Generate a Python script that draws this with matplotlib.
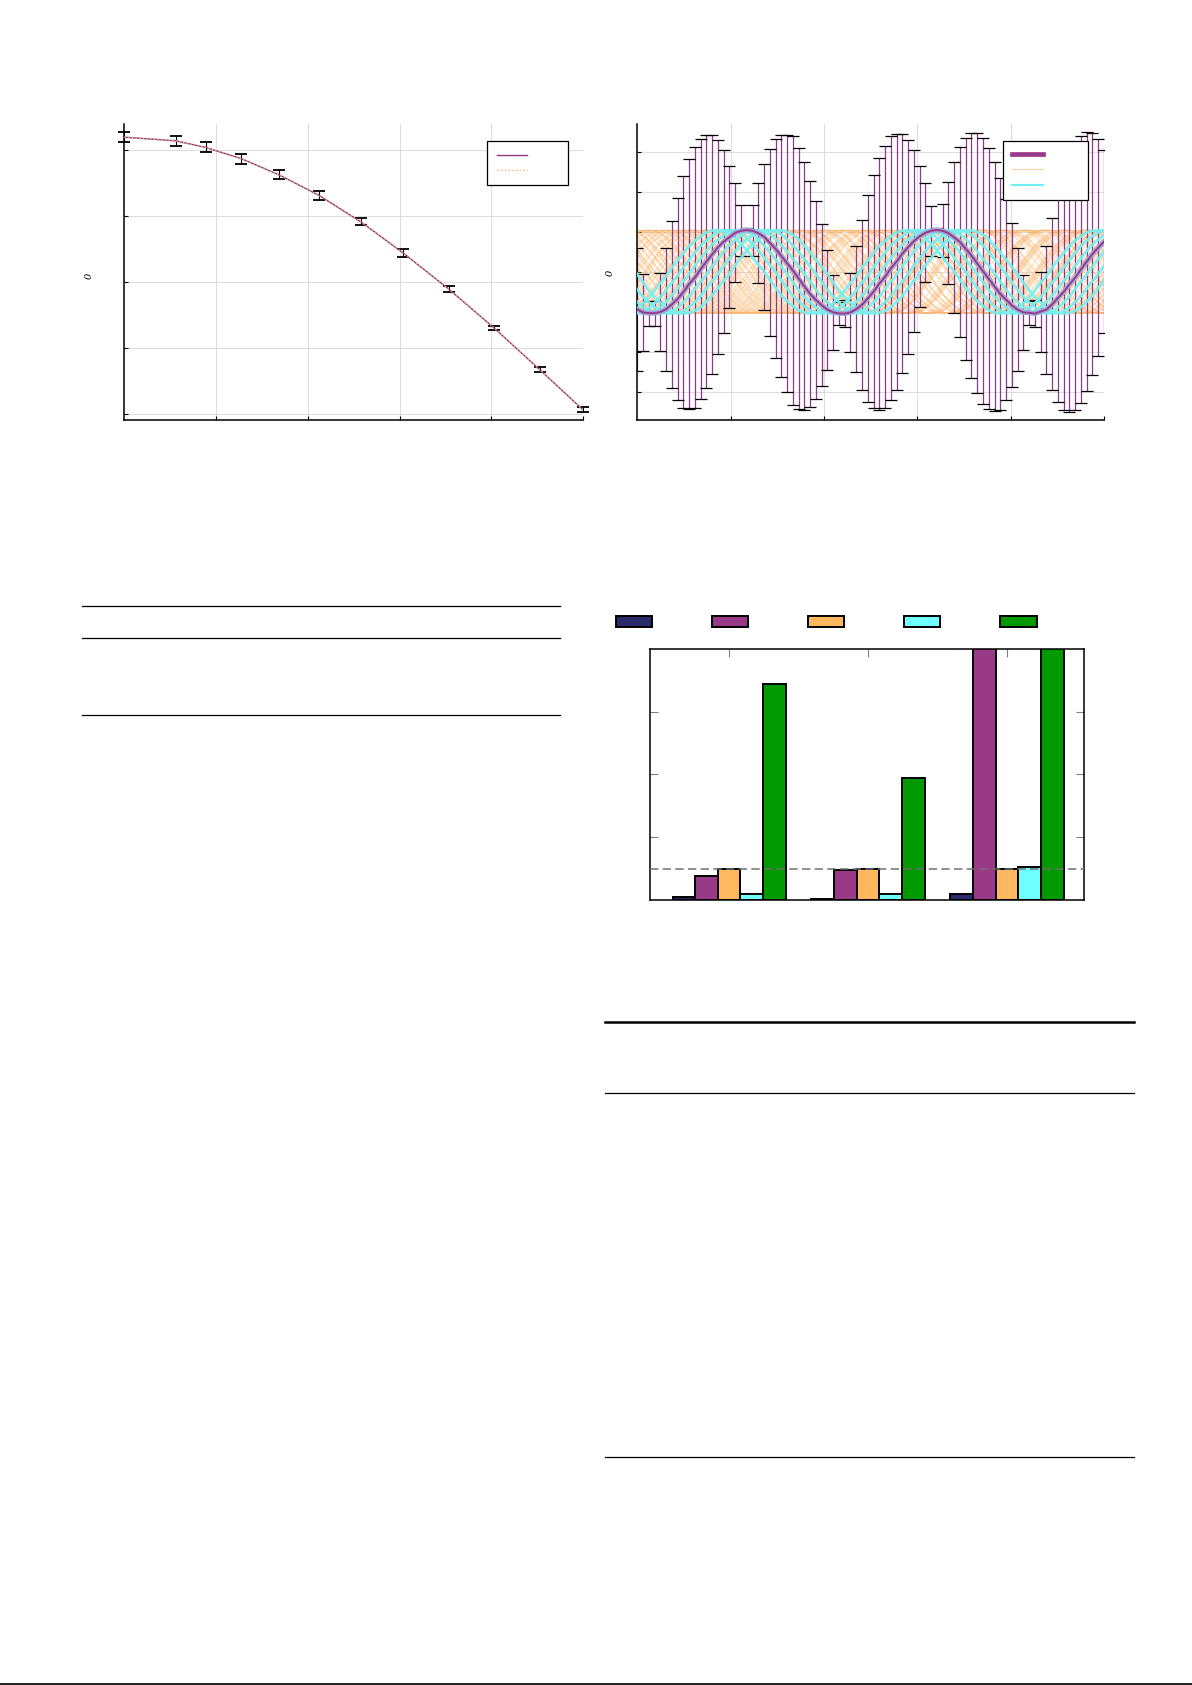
import numpy as np
import matplotlib
matplotlib.use('Agg')
import matplotlib.pyplot as plt
from matplotlib.lines import Line2D

#######################################################
# data
# top left: decaying curve with error bars
curve_x = [0.0, 0.112, 0.177, 0.255, 0.337, 0.424, 0.515, 0.608, 0.707, 0.806, 0.906, 1.0]
curve_y = [0.839, 0.828, 0.808, 0.774, 0.725, 0.663, 0.583, 0.488, 0.379, 0.261, 0.134, 0.013]
curve_err = [0.015, 0.015, 0.015, 0.015, 0.014, 0.013, 0.011, 0.011, 0.008, 0.007, 0.0075, 0.0075]

# top right: oscillation, 82 samples on 0..5
wave_y = [-0.925, -1.0, -1.02, -1.02, -0.99, -0.92, -0.80, -0.66, -0.49, -0.29,
          -0.13, 0.08, 0.27, 0.45, 0.63, 0.77, 0.88, 0.99, 1.04, 1.06,
          1.04, 0.98, 0.89, 0.74, 0.59, 0.41, 0.23, 0.05, -0.15, -0.35,
          -0.54, -0.69, -0.82, -0.93, -1.0, -1.025, -1.03, -1.0, -0.92, -0.81,
          -0.65, -0.48, -0.28, -0.11, 0.10, 0.27, 0.47, 0.63, 0.78, 0.90,
          0.99, 1.04, 1.06, 1.04, 0.98, 0.875, 0.76, 0.59, 0.42, 0.225,
          0.03, -0.16, -0.35, -0.54, -0.68, -0.825, -0.93, -1.0, -1.01, -1.03,
          -0.98, -0.93, -0.80, -0.64, -0.49, -0.30, -0.13, 0.075, 0.27, 0.46,
          0.62, 0.77]
wave_err = [1.53, 0.96, 0.31, 0.31, 0.97, 1.54, 2.08, 2.53, 2.89, 3.13,
            3.27, 3.25, 3.17, 2.98, 2.68, 2.29, 1.78, 1.24, 0.64, 0.05,
            0.64, 1.25, 1.83, 2.34, 2.74, 3.03, 3.21, 3.37, 3.26, 3.10,
            2.83, 2.48, 2.03, 1.50, 0.93, 0.29, 0.33, 0.98, 1.58, 2.13,
            2.58, 2.92, 3.15, 3.28, 3.30, 3.20, 2.99, 2.68, 2.28, 1.77,
            1.24, 0.63, 0.05, 0.66, 1.27, 1.88, 2.37, 2.78, 3.06, 3.25,
            3.32, 3.26, 3.11, 2.90, 2.51, 2.05, 1.53, 0.93, 0.30, 0.34,
            1.00, 1.60, 2.15, 2.60, 2.95, 3.20, 3.32, 3.33, 3.23, 3.02,
            2.72, 2.29]
wave_x = np.linspace(0, 5, len(wave_y))  # uniform sample grid

# phase offsets of the cyan and orange sample paths (x units)
cyan_shift = [-0.32, -0.2, -0.09, 0.1, 0.22, 0.34]
orange_shift = [0.00, 0.05, 0.09, 0.14, 0.18, 0.23, 0.27, 0.31, 0.36, 0.41,
                0.45, 0.49, 0.54, 0.58, 0.63, 0.68, 0.72, 0.76, 0.81, 0.85,
                0.90, 0.94, 0.99, 1.03, 1.07, 1.12, 1.16, 1.21, 1.25, 1.30,
                1.34, 1.38, 1.43, 1.47, 1.52, 1.56, 1.61, 1.65, 1.70, 1.74,
                1.78, 1.83, 1.87, 1.92, 1.96, 2.00]
orange_stretch = [1.0, 0.95, 1.05, 0.97, 1.03]
orange_stretch_b = [0.92, 1.08, 0.99, 1.06, 0.94]

# bar chart, three groups, five series (dashed reference at 1)
groups = [0, 1, 2]
bar_navy = [0.085, 0.04, 0.2]
bar_purple = [0.78, 0.96, 9.5]
bar_orange = [1.0, 1.0, 1.0]
bar_cyan = [0.19, 0.19, 1.04]
bar_green = [6.9, 3.9, 10.0]

PURPLE = '#983A88'
NAVY = '#2B2B6B'
ORANGE = '#FFB85F'
CYAN = '#6FFFFF'
GREEN = '#009900'

#######################################################
W, H = 1192, 1685
fig = plt.figure(figsize=(W / 100, H / 100), dpi=100)


def box(x0, y0, x1, y1):
    return [x0 / W, 1 - y1 / H, (x1 - x0) / W, (y1 - y0) / H]


def hline(x0, x1, y, lw):
    fig.add_artist(Line2D([x0 / W, x1 / W], [1 - y / H, 1 - y / H],
                          transform=fig.transFigure, color='black', lw=lw))


def style_line_axes(ax):
    for s in ['top', 'right']:
        ax.spines[s].set_visible(False)
    for s in ['left', 'bottom']:
        ax.spines[s].set_linewidth(1.1)
    ax.grid(True, color='#DEDEDE', lw=0.8)
    ax.set_axisbelow(True)
    ax.tick_params(direction='in', length=3, width=0.8,
                   labelbottom=False, labelleft=False)


########################################################################
# top left
ax1 = fig.add_axes(box(124.4, 124, 583, 420))
ax1.set_xlim(0, 1)
ax1.set_ylim(-0.018, 0.879)
ax1.set_xticks([0.2, 0.4, 0.6, 0.8, 1.0])
ax1.set_yticks([0, 0.2, 0.4, 0.6, 0.8])
style_line_axes(ax1)

eb = ax1.errorbar(curve_x, curve_y, yerr=curve_err, fmt='none', ecolor='black',
                  elinewidth=0.8, capsize=4, capthick=1.3, zorder=3)
for a in list(eb.lines[1]) + list(eb.lines[2]):
    a.set_clip_on(False)
ax1.plot(curve_x, curve_y, color='#8B3A80', lw=1.0, zorder=4)
ax1.plot(curve_x, curve_y, color='#F5B06B', lw=1.0, ls=':', zorder=5)

h1 = [Line2D([], [], color='#8B3A80', lw=1.0),
      Line2D([], [], color='#F5B06B', lw=1.0, ls=':')]
ax1.legend(h1, ['', ''], loc='upper left', bbox_to_anchor=(487 / W, 1 - 141 / H),
           bbox_transform=fig.transFigure, borderaxespad=0, fontsize=8,
           handlelength=2.7, handletextpad=2.9, borderpad=0.86, labelspacing=0.47,
           fancybox=False, framealpha=1, edgecolor='black').get_frame().set_linewidth(0.9)
fig.text(89 / W, 1 - 276 / H, '0', rotation=90, fontsize=7, style='italic',
         family='DejaVu Serif', ha='center', va='center')

########################################################################
# top right
ax2 = fig.add_axes(box(637.3, 124, 1104, 420))
ax2.set_xlim(0, 5)
ax2.set_ylim(-3.69, 3.71)
ax2.set_xticks([1, 2, 3, 4, 5])
ax2.set_yticks([-3, -2, -1, 0, 1, 2, 3])
style_line_axes(ax2)

# one period of the read curve, trough to trough, tiled for the shifted paths
base_x = wave_x[3:36] - wave_x[3]
base_y = np.array(wave_y[3:36])
period = wave_x[36] - wave_x[3]


def tiled(shift, stretch=1.0):
    xs, ys = [], []
    for m in range(-3, 5):
        xs.append((base_x + m * period) * stretch + wave_x[3] + shift)
        ys.append(base_y)
    return np.concatenate(xs), np.concatenate(ys)


for i, s in enumerate(orange_shift):
    for st in (orange_stretch[i % 5], orange_stretch_b[i % 5]):
        xx, yy = tiled(s, st)
        ax2.plot(xx, yy, color='#FDB060', lw=0.45, alpha=0.5, zorder=1)

eb2 = ax2.errorbar(wave_x, wave_y, yerr=wave_err, fmt='none', ecolor='#8A3A86',
                   elinewidth=0.9, capsize=4.5, capthick=0.9, zorder=2)
for c in eb2.lines[1]:
    c.set_color('black')
    c.set_markeredgecolor('black')
    c.set_markerfacecolor('black')

for s in cyan_shift:
    xx, yy = tiled(s)
    ax2.plot(xx, yy, color='#78F0F0', lw=2.1, alpha=0.9, zorder=3)
ax2.plot(wave_x, wave_y, color='#9FA8DC', lw=3.6, zorder=4)
ax2.plot(wave_x, wave_y, color=PURPLE, lw=1.4, zorder=5)

h2 = [Line2D([], [], color=PURPLE, lw=3.4),
      Line2D([], [], color='#FDD3A8', lw=0.8),
      Line2D([], [], color='#74EFEF', lw=1.6)]
ax2.legend(h2, ['', '', ''], loc='upper left', bbox_to_anchor=(1003 / W, 1 - 141 / H),
           bbox_transform=fig.transFigure, borderaxespad=0, fontsize=8,
           handlelength=2.8, handletextpad=3.25, borderpad=0.8, labelspacing=0.49,
           fancybox=False, framealpha=1, edgecolor='black').get_frame().set_linewidth(0.9)
fig.text(610 / W, 1 - 273 / H, '0', rotation=90, fontsize=7, style='italic',
         family='DejaVu Serif', ha='center', va='center')

########################################################################
# bar chart
ax3 = fig.add_axes(box(650, 649, 1084, 900))
ax3.set_xlim(-0.57, 2.555)
ax3.set_ylim(0, 8)
w = 0.163
series = [(bar_navy, NAVY), (bar_purple, PURPLE), (bar_orange, ORANGE),
          (bar_cyan, CYAN), (bar_green, GREEN)]
bars = []
for i, (vals, col) in enumerate(series):
    b = ax3.bar(np.array(groups) + (i - 2) * w, vals, width=w, color=col,
                edgecolor='black', linewidth=1.4, zorder=2)
    bars.append(b)
ax3.axhline(1.0, color='#6E6E6E', lw=1.2, ls=(0, (5, 2.6)), alpha=0.9, zorder=5)
ax3.set_xticks(groups)
ax3.set_yticks([2, 4, 6])
ax3.tick_params(axis='x', direction='in', top=True, bottom=False, length=6,
                width=0.8, color='#808080', labelbottom=False)
ax3.tick_params(axis='y', direction='in', left=True, right=True, length=6,
                width=0.8, color='#808080', labelleft=False)
for s in ax3.spines.values():
    s.set_linewidth(1.1)

fig.legend([b[0] for b in bars], [''] * 5, ncol=5, loc='upper left',
           bbox_to_anchor=(616 / W, 1 - 615 / H), borderaxespad=0, borderpad=0,
           fontsize=10, handlelength=2.6, handleheight=0.86, handletextpad=0,
           columnspacing=4.32, frameon=False)

########################################################################
# table rules
hline(82, 560, 606, 0.9)
hline(82, 560, 638, 0.9)
hline(82, 560, 715, 0.9)
hline(605, 1134, 1022, 1.8)
hline(605, 1134, 1093, 0.9)
hline(605, 1134, 1457, 0.9)
hline(0, 1192, 1684, 1.2)

fig.savefig('out.png', dpi=100)
